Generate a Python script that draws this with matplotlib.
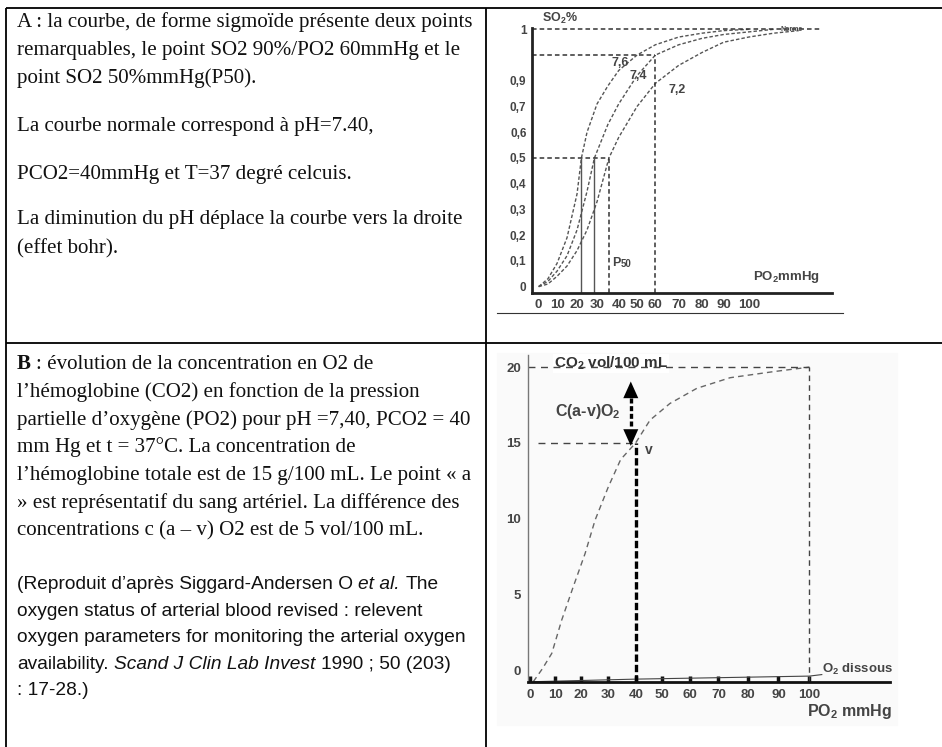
import numpy as np
import matplotlib.pyplot as plt
from matplotlib.font_manager import FontProperties
from matplotlib.patches import Rectangle

plt.rcParams['mathtext.fontset'] = 'custom'
plt.rcParams['mathtext.rm'] = 'Liberation Sans'
plt.rcParams['mathtext.bf'] = 'Liberation Sans:bold'

# ---------------- data ----------------
# A : SO2 vs PO2 for three pH values
ph_labels = ['7,6', '7,4', '7,2']
ph_label_po2 = [40.9, 50.9, 69.3]
ph_label_so2 = [0.868, 0.819, 0.764]

po2_76 = [0, 5, 10, 15, 20, 22.2, 25, 30, 35, 40, 50, 60, 70, 80, 90, 100]
so2_76 = [0, 0.03, 0.09, 0.19, 0.36, 0.5, 0.6, 0.71, 0.78, 0.84, 0.9, 0.94, 0.97, 0.985, 0.995, 1.0]
po2_74 = [0, 5, 10, 15, 20, 25, 28.7, 35, 40, 50, 60, 70, 80, 90, 100, 110]
so2_74 = [0, 0.02, 0.06, 0.12, 0.22, 0.37, 0.5, 0.63, 0.71, 0.82, 0.9, 0.94, 0.965, 0.98, 0.99, 1.0]
po2_72 = [0, 5, 10, 15, 20, 25, 30, 35.5, 40, 50, 60, 70, 80, 90, 100, 110, 120]
so2_72 = [0, 0.01, 0.04, 0.08, 0.14, 0.22, 0.33, 0.5, 0.58, 0.7, 0.79, 0.86, 0.91, 0.95, 0.97, 0.985, 0.995]

p50_values = [22.2, 28.7, 35.5]      # P50 of 7,6 / 7,4 / 7,2
p90_po2, p90_so2 = 60, 0.9

a_xticks = [0, 10, 20, 30, 40, 50, 60, 70, 80, 90, 100]
a_yticks = [0, 0.1, 0.2, 0.3, 0.4, 0.5, 0.6, 0.7, 0.8, 1.0]
a_ylabels = ['0', '0,1', '0,2', '0,3', '0,4', '0,5', '0,6', '0,7', '0,9', '1']

# B : O2 content vs PO2
po2_b = [1.3, 5, 8.7, 12.6, 17.1, 21.6, 25.2, 30, 34.5, 40, 45.5, 52.9, 62.4, 73.9, 88.3, 100]
co2_b = [-0.77, 0.1, 1.1, 3.3, 5.5, 7.7, 9.9, 12.1, 13.9, 15, 16.5, 17.6, 18.6, 19.3, 19.7, 20]
po2_dis = [1.3, 40, 100, 104]
o2_dis = [-0.77, -0.6, -0.4, -0.3]
v_po2, v_co2 = 40, 15
a_po2, a_co2 = 100, 20

b_xticks = [0, 10, 20, 30, 40, 50, 60, 70, 80, 90, 100]
b_yticks = [0, 5, 10, 15, 20]

# ---------------- layout ----------------
W, H = 942, 747
fig = plt.figure(figsize=(W / 100, H / 100), dpi=100)
bg = fig.add_axes([0, 0, 1, 1])
bg.set_xlim(0, W)
bg.set_ylim(H, 0)
bg.axis('off')
renderer = fig.canvas.get_renderer()

grid = dict(color='black', lw=1.3, solid_capstyle='butt')
bg.plot([6, W], [7.5, 7.5], **grid)
bg.plot([6, W], [343, 343], **grid)
bg.plot([6, 6], [7.5, H], **grid)
bg.plot([486, 486], [7.5, H], **grid)


def tw(s, fp):
    w1 = renderer.get_text_width_height_descent('|' + s + '|', fp, ismath=False)[0]
    w0 = renderer.get_text_width_height_descent('||', fp, ismath=False)[0]
    return w1 - w0


def rich(x, y, parts, size, family):
    for s, style in parts:
        fp = FontProperties(family=family, size=size, **style)
        lead = len(s) - len(s.lstrip(' '))
        x0 = x + (tw(' ' * lead, fp) if lead else 0)
        bg.text(x0, y, s.strip(' '), fontproperties=fp, va='baseline', color='#111111')
        x += tw(s, fp)


SERIF = 'Liberation Serif'
SANS = 'Liberation Sans'
R = {}
TX = 17

# text A
text_a = [
    "A : la courbe, de forme sigmoïde présente deux points",
    "remarquables, le point SO2 90%/PO2 60mmHg et le",
    "point SO2 50%mmHg(P50).",
    "La courbe normale correspond à pH=7.40,",
    "PCO2=40mmHg et T=37 degré celcuis.",
    "La diminution du pH déplace la courbe vers la droite",
    "(effet bohr).",
]
base_a = [27, 55.5, 83.5, 131, 179, 224, 253]
for s, y in zip(text_a, base_a):
    rich(TX, y, [(s, R)], 15.1, SERIF)

# text B
text_b = [
    [("B", dict(weight='bold')), (" : évolution de la concentration en O2 de", R)],
    [("l’hémoglobine (CO2) en fonction de la pression", R)],
    [("partielle d’oxygène (PO2) pour pH =7,40, PCO2 = 40", R)],
    [("mm Hg et t = 37°C. La concentration de", R)],
    [("l’hémoglobine totale est de 15 g/100 mL. Le point « a", R)],
    [("» est représentatif du sang artériel. La différence des", R)],
    [("concentrations c (a – v) O2 est de 5 vol/100 mL.", R)],
]
base_b = [369, 396.5, 424.5, 452, 480, 508, 535.5]
for parts, y in zip(text_b, base_b):
    rich(TX, y, parts, 15.1, SERIF)

IT = dict(style='italic')
text_ref = [
    [("(Reproduit d’après Siggard-Andersen O ", R), ("et al.", IT), (" The", R)],
    [("oxygen status of arterial blood revised : relevent", R)],
    [("oxygen parameters for monitoring the arterial oxygen", R)],
    [("availability. ", R), ("Scand J Clin Lab Invest", IT), (" 1990 ; 50 (203)", R)],
    [(": 17-28.)", R)],
]
base_ref = [589, 616, 642, 669, 695]
for parts, y in zip(text_ref, base_ref):
    rich(TX, y, parts, 13.8, SANS)


def piecewise(ax, mm, u):
    ax.set_xscale('function', functions=(lambda v: np.interp(v, mm, u),
                                         lambda v: np.interp(v, u, mm)))


def px_axes(left, top, right, bottom):
    ax = fig.add_axes([left / W, 1 - bottom / H, (right - left) / W, (bottom - top) / H])
    ax.set_facecolor('none')
    for sp in ['top', 'right']:
        ax.spines[sp].set_visible(False)
    return ax


lab = dict(family=SANS, weight='bold', color='#444444')
dash = (0, (3, 2))

# ---------------- chart A ----------------
axA = px_axes(532, 28.3, 832, 293.3)
piecewise(axA, [-10] + a_xticks + [150],
          [90, 145, 200, 260, 320, 385, 440, 495, 565, 635, 700, 775, 1150])
x0a, y0a = -3.64, -0.026
axA.set_xlim(x0a, 133.3)
axA.set_ylim(y0a, 1.004)
for sp in ['left', 'bottom']:
    axA.spines[sp].set_linewidth(2)
    axA.spines[sp].set_color('#222222')
axA.set_xticks(a_xticks, [str(v) for v in a_xticks], **lab, fontsize=9.5)
axA.set_yticks(a_yticks, a_ylabels, **lab, fontsize=8.5)
axA.tick_params(length=0, pad=4)

for xs, ys in [(po2_76, so2_76), (po2_74, so2_74), (po2_72, so2_72)]:
    axA.plot(xs, ys, color='#555555', lw=1, ls=(0, (2.5, 1.5)))

ref = dict(color='#333333', lw=1.1, ls=dash)
axA.plot([x0a, 129.3], [1, 1], **ref)
axA.plot([x0a, p90_po2], [p90_so2, p90_so2], **ref)
axA.plot([p90_po2, p90_po2], [y0a, p90_so2], **ref)
axA.plot([x0a, p50_values[2]], [0.5, 0.5], **ref)
axA.plot([p50_values[2], p50_values[2]], [y0a, 0.5], **ref)
for p in p50_values[:2]:
    axA.plot([p, p], [y0a, 0.5], color='#555555', lw=1)

for s, x, y in zip(ph_labels, ph_label_po2, ph_label_so2):
    axA.text(x, y, s, ha='center', va='center', fontsize=9, **lab)
axA.text(36.9, 0.09, 'P', ha='left', va='center', fontsize=9, **lab)
axA.annotate('50', xy=(36.9, 0.09), xytext=(6.5, -0.5), textcoords='offset points',
             ha='left', va='center', fontsize=7, **lab)
axA.text(117, 1.0, 'Norme', ha='center', va='center', fontsize=5, **lab)
bg.text(560, 18.3, 'SO$_\\mathregular{2}$%', ha='center', va='center', fontsize=9, **lab)
bg.text(786.7, 276.7, 'PO$_\\mathregular{2}$mmHg', ha='center', va='center', fontsize=9.5, **lab)
bg.plot([497, 843], [313, 313], color='#333333', lw=0.8)

# ---------------- chart B ----------------
bg.add_patch(Rectangle((497, 353), 400, 372, color='#fafafa', zorder=0))
axB = px_axes(527.7, 355, 890, 681.7)
piecewise(axB, [-10] + b_xticks + [150],
          [45, 120, 195, 272, 355, 437, 515, 600, 685, 775, 865, 958, 1423])
x0b, y0b = -0.93, -0.77
axB.set_xlim(x0b, 126)
axB.set_ylim(y0b, 20.8)
axB.spines['left'].set_linewidth(1)
axB.spines['left'].set_color('#777777')
axB.spines['bottom'].set_linewidth(2)
axB.spines['bottom'].set_color('#111111')
axB.set_xticks(b_xticks, [str(v) for v in b_xticks], **lab, fontsize=9.5)
axB.set_yticks(b_yticks, [str(v) for v in b_yticks], **lab, fontsize=9.5)
axB.tick_params(axis='x', direction='in', length=4, width=2.5, color='#111111', pad=5)
axB.tick_params(axis='y', length=0, pad=5)

axB.plot(po2_b, co2_b, color='#666666', lw=1, ls=(0, (4, 3)))
axB.plot(po2_dis, o2_dis, color='#444444', lw=0.8)

refb = dict(color='#444444', lw=1, ls=(0, (5, 4)))
axB.plot([x0b, a_po2], [a_co2, a_co2], **refb)
axB.plot([a_po2, a_po2], [y0b, a_co2], color='#444444', lw=1, ls=(0, (4, 3)))
axB.plot([3.3, v_po2], [v_co2, v_co2], **refb)
axB.plot([v_po2, v_po2], [y0b, v_co2], color='black', lw=2.4, ls=(0, (2.2, 0.9)))

xa = 38.2
axB.plot([xa, xa], [16.1, 17.95], color='black', lw=2.4, ls=(0, (1.5, 0.8)))
head = dict(arrowstyle='-|>,head_length=1.0,head_width=0.45', mutation_scale=12,
            color='black', lw=0, shrinkA=0, shrinkB=0)
axB.annotate('', xy=(xa, 19.05), xytext=(xa, 17.9), arrowprops=head)
axB.annotate('', xy=(xa, 14.8), xytext=(xa, 16.15), arrowprops=head)

bg.text(611, 363.3, 'CO$_\\mathregular{2}$ vol/100 mL', ha='center', va='center',
        fontsize=11, bbox=dict(facecolor='white', edgecolor='none', pad=0.5),
        family=SANS, weight='bold', color='#333333')
bg.text(587.5, 411.7, 'C(a-v)O$_\\mathregular{2}$', ha='center', va='center', fontsize=11.5,
        family=SANS, weight='bold', color='#444444')
bg.text(649.3, 450, 'v', ha='center', va='center', fontsize=10, **lab)
bg.text(822.3, 669.3, 'O$_\\mathregular{2}$ dissous', ha='left', va='center', fontsize=9.5, **lab)
bg.text(891.7, 711.7, 'PO$_\\mathregular{2}$ mmHg', ha='right', va='center', fontsize=11.5, **lab)

fig.savefig('out.png', dpi=100)
